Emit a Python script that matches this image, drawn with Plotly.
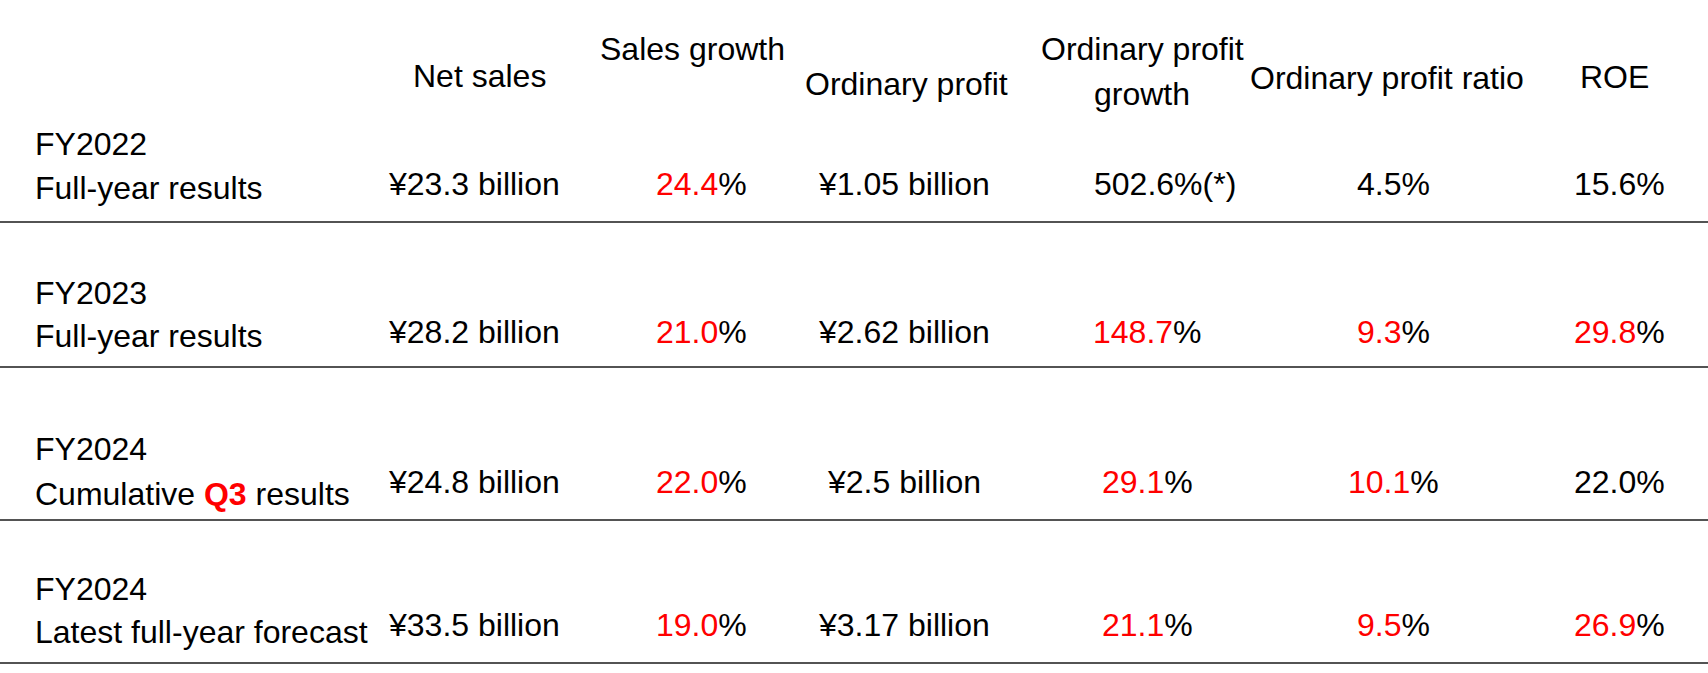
import plotly.graph_objects as go

# ---------------- data ----------------
columns = ["Net sales", "Sales growth", "Ordinary profit", "Ordinary profit<br>growth",
           "Ordinary profit ratio", "ROE"]
row_years = ["FY2022", "FY2023", "FY2024", "FY2024"]
row_kinds = ["Full-year results", "Full-year results", "Cumulative Q3 results",
             "Latest full-year forecast"]
net_sales_bn = ["23.3", "28.2", "24.8", "33.5"]
sales_growth_pct = ["24.4", "21.0", "22.0", "19.0"]
ordinary_profit_bn = ["1.05", "2.62", "2.5", "3.17"]
op_growth_pct = ["502.6", "148.7", "29.1", "21.1"]
op_ratio_pct = ["4.5", "9.3", "10.1", "9.5"]
roe_pct = ["15.6", "29.8", "22.0", "26.9"]
op_growth_notes = ["(*)", "", "", ""]

# ---------------- styling / layout ----------------
W, H = 1708, 673
FONT = "Liberation Sans, Arial, sans-serif"
FS = 32
RED = "#ff0000"
BLACK = "#000000"

# which cells are highlighted in red (style only)
hl_sales_growth = [True, True, True, True]
hl_op_growth = [False, True, True, True]
hl_op_ratio = [False, True, True, True]
hl_roe = [False, True, False, True]

col_x = [474, 701, 904, 1147, 1393, 1619]
header_pos = [(479, [76]), (692, [49]), (906, [84]), (1142, [49, 94]), (1387, [78]), (1614, [77])]
label_x = 33
label_y1 = [144, 293, 449, 589]
label_y2 = [187.5, 335.5, 494, 632]
value_y = [184, 332, 482, 625]
rule_y = [222, 367, 520, 663]

YOFF = 0


def pct(v, red, note=""):
    if red:
        return f"<span style='color:{RED}'>{v}</span>%{note}"
    return f"{v}%{note}"


annotations = []


def add(x, y, text, xanchor="center"):
    annotations.append(dict(x=x, y=y + YOFF, xref="x", yref="y", text=text, showarrow=False,
                            xanchor=xanchor, yanchor="middle",
                            font=dict(family=FONT, size=FS, color=BLACK)))


# headers
for (hx, hys), name in zip(header_pos, columns):
    parts = name.split("<br>")
    for hy, p in zip(hys, parts):
        add(hx, hy, p)

# rows
for i in range(len(row_years)):
    add(label_x, label_y1[i], row_years[i], "left")
    kind = row_kinds[i].replace("Q3", f"<b><span style='color:{RED}'>Q3</span></b>")
    add(label_x, label_y2[i], kind, "left")
    add(col_x[0], value_y[i], f"¥{net_sales_bn[i]} billion")
    add(col_x[1], value_y[i], pct(sales_growth_pct[i], hl_sales_growth[i]))
    add(col_x[2], value_y[i], f"¥{ordinary_profit_bn[i]} billion")
    if op_growth_notes[i]:
        add(1092, value_y[i], pct(op_growth_pct[i], hl_op_growth[i], op_growth_notes[i]), "left")
    else:
        add(col_x[3], value_y[i], pct(op_growth_pct[i], hl_op_growth[i]))
    add(col_x[4], value_y[i], pct(op_ratio_pct[i], hl_op_ratio[i]))
    add(col_x[5], value_y[i], pct(roe_pct[i], hl_roe[i]))

shapes = [dict(type="line", xref="x", yref="y", x0=0, x1=W, y0=y, y1=y,
               line=dict(color="#1a1a1a", width=1.5)) for y in rule_y]

fig = go.Figure()
fig.update_layout(
    width=W, height=H,
    margin=dict(l=0, r=0, t=0, b=0),
    paper_bgcolor="white", plot_bgcolor="white",
    xaxis=dict(range=[0, W], visible=False, fixedrange=True),
    yaxis=dict(range=[H, 0], visible=False, fixedrange=True),
    annotations=annotations,
    shapes=shapes,
    showlegend=False,
)
fig.write_html("out.html", config={"displayModeBar": False},
               post_script="document.body.style.margin='0';document.body.style.overflow='hidden';")
